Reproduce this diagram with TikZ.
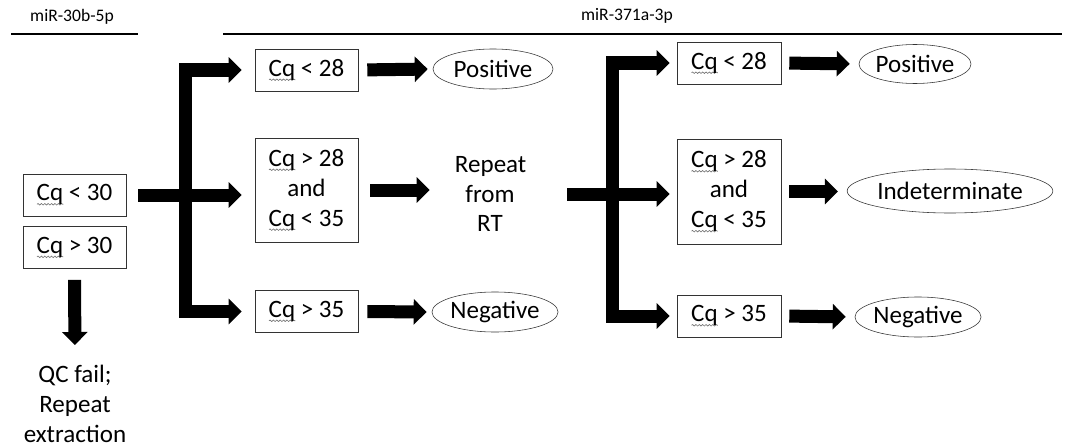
\documentclass[tikz,border=0pt]{standalone}
\usepackage{fontspec}
\setmainfont{Carlito}
\usetikzlibrary{arrows.meta,positioning,shapes.geometric,decorations.pathmorphing}
\newcommand{\cq}{\leavevmode\rlap{\raisebox{-3.2pt}{\tikz\draw[black!55, line width=0.45pt, decorate, decoration={snake, amplitude=0.55pt, segment length=2.4pt}] (0cm,0cm) -- (0.66cm,0cm);}}Cq}

\begin{document}
\begin{tikzpicture}[
    x=0.025cm, y=-0.025cm,
    box/.style={draw=black!80, inner sep=0pt, minimum width=2.575cm, minimum height=1.05cm, align=center, font=\fontsize{17.8}{21.3}\selectfont},
    oval/.style={draw=black!80, ellipse, inner sep=0pt, minimum height=1cm, font=\fontsize{17.8}{21.3}\selectfont},
    plain/.style={inner sep=0pt, align=center, font=\fontsize{17.8}{21.3}\selectfont},
    head/.style={inner sep=0pt, font=\fontsize{12.5}{15}\selectfont},
    fat/.style={line width=0.325cm, line join=miter, -{Triangle[length=0.325cm, width=0.625cm]}},
    hline/.style={line width=1.4pt},
  ]
  \useasboundingbox (0,0) rectangle (1067,447);

  % Headers
  \node[head] (h30b) at (72,17) {miR-30b-5p};
  \node[head] (h371a) at (627,16) {miR-371a-3p};
  \draw[hline] (11,34) -- (138,34);
  \draw[hline] (223,34) -- (1062,34);

  % miR-30b-5p
  \node[box] (q30) at (74.5,195) {\cq{} < 30};
  \node[box, below=0.25cm of q30] (q30b) {\cq{} > 30};
  \node[plain] (qcfail) at (75,404) {QC fail;\\Repeat\\extraction};

  % First round
  \node[box] (a28) at (306.5,70) {\cq{} < 28};
  \node[box, minimum height=2.6cm] (a2835) at (306.5,190) {\cq{} > 28\\and\\\cq{} < 35};
  \node[box] (a35) at (306.5,311.5) {\cq{} > 35};
  \node[oval, minimum width=3cm] (pos1) at (493,69) {Positive};
  \node[plain, text width=1.75cm] (repeat) at (490,194) {Repeat\\from\\RT};
  \node[oval, minimum width=3cm] (neg1) at (495,312) {Negative};
  \coordinate (bar1) at (185,194);

  % Second round
  \node[box, minimum width=2.6cm] (b28) at (729,63) {\cq{} < 28};
  \node[box, minimum width=2.6cm, minimum height=2.625cm] (b2835) at (729,191.5) {\cq{} > 28\\and\\\cq{} < 35};
  \node[box, minimum width=2.6cm] (b35) at (729,316) {\cq{} > 35};
  \node[oval, minimum width=2.8cm, minimum height=0.975cm] (pos2) at (915,64) {Positive};
  \node[oval, minimum width=4.55cm, minimum height=1.1cm] (indet) at (950,191) {Indeterminate};
  \node[oval, minimum width=2.975cm] (neg2) at (918,317) {Negative};
  \coordinate (bar2) at (612,192);

  % Arrows
  \draw[fat, shorten <=0.275cm, shorten >=0.5cm] (q30b.south) -- (qcfail.north);
  \draw[fat, shorten <=0.3cm, shorten >=0.325cm] (q30.east) -- (q30.east -| a2835.west);
  \draw[fat, {Triangle[length=0.325cm, width=0.625cm]}-{Triangle[length=0.325cm, width=0.625cm]}, shorten <=0.325cm, shorten >=0.325cm] (a35.west) -| (bar1) |- (a28.west);
  \draw[fat, shorten <=0.225cm, shorten >=0.125cm] (a28.east) -- (pos1.west);
  \draw[fat, shorten <=0.3cm, shorten >=0.625cm] (a2835.east) -- (a2835.east -| repeat.west);
  \draw[fat, shorten <=0.225cm, shorten >=0.125cm] (a35.east) -- (neg1.west);
  \draw[fat, shorten <=1.05cm, shorten >=0.175cm] (repeat.east) -- (repeat.east -| b2835.west);
  \draw[fat, {Triangle[length=0.325cm, width=0.625cm]}-{Triangle[length=0.325cm, width=0.625cm]}, shorten <=0.175cm, shorten >=0.175cm] (b35.west) -| (bar2) |- (b28.west);
  \draw[fat, shorten <=0.2cm, shorten >=0.225cm] (b28.east) -- (pos2.west);
  \draw[fat, shorten <=0.2cm, shorten >=0.225cm] (b2835.east) -- (b2835.east -| indet.west);
  \draw[fat, shorten <=0.2cm, shorten >=0.225cm] (b35.east) -- (neg2.west);
\end{tikzpicture}
\end{document}
